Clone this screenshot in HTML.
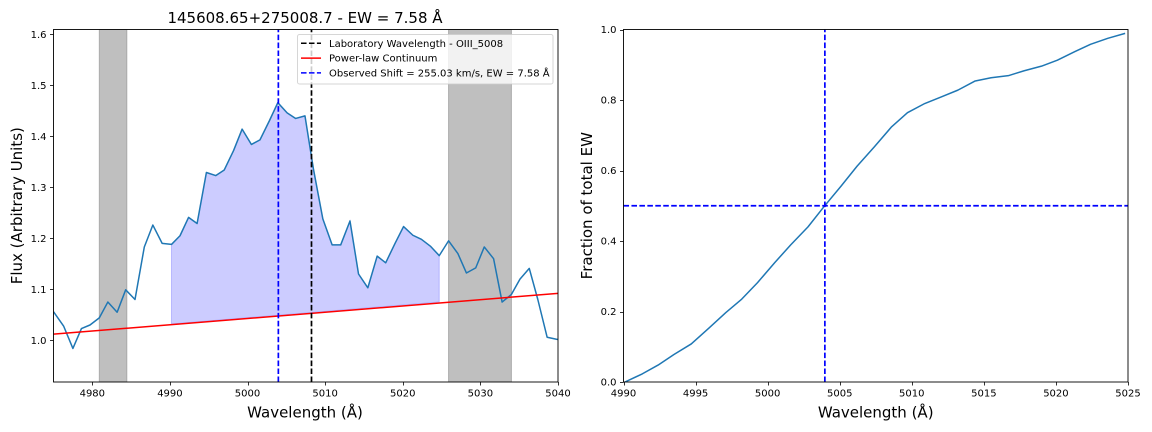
<!DOCTYPE html>
<html>
<head>
<meta charset="utf-8">
<title>EW chart</title>
<style>
html,body{margin:0;padding:0;background:#fff;width:1152px;height:432px;overflow:hidden}
svg{display:block;filter:blur(0.35px)}
text{font-family:"DejaVu Sans","Liberation Sans",sans-serif;fill:#000}
</style>
</head>
<body>
<svg id="fig" xmlns="http://www.w3.org/2000/svg" width="1152" height="432" viewBox="0 0 1152 432">
<defs>
<clipPath id="clipL"><rect x="53.5" y="29.5" width="504.5" height="352.5"/></clipPath>
<clipPath id="clipR"><rect x="623.5" y="29.5" width="504.5" height="352.5"/></clipPath>
</defs>
<g id="left"></g>
<g id="right"></g>
</svg>
<script>
var fluxWave = [4975.0,4976.3,4977.5,4978.6,4979.7,4980.9,4982.0,4983.2,4984.3,4985.5,4986.7,4987.8,4989.0,4990.2,4991.3,4992.4,4993.5,4994.7,4995.9,4997.0,4998.2,4999.3,5000.5,5001.6,5002.8,5003.9,5005.1,5006.2,5007.4,5008.5,5009.7,5010.9,5012.0,5013.2,5014.3,5015.5,5016.7,5017.8,5019.0,5020.1,5021.3,5022.4,5023.6,5024.7,5025.9,5027.1,5028.2,5029.4,5030.5,5031.7,5032.8,5034.0,5035.1,5036.3,5037.4,5038.6,5039.8,5040.9];
var fluxValues = [1.056,1.028,0.984,1.023,1.030,1.044,1.075,1.055,1.099,1.080,1.183,1.226,1.190,1.188,1.205,1.241,1.229,1.329,1.323,1.334,1.372,1.414,1.384,1.393,1.430,1.466,1.446,1.435,1.440,1.335,1.238,1.187,1.187,1.234,1.130,1.103,1.165,1.152,1.190,1.223,1.206,1.198,1.184,1.166,1.195,1.170,1.132,1.142,1.183,1.160,1.075,1.090,1.120,1.141,1.080,1.006,1.002,1.000];
var continuumWave = [4975,5040];
var continuumFlux = [1.012,1.092];
var fillStartWave = 4990.2;
var fillEndWave = 5024.7;
var fillBaseFlux = [1.032,1.075];
var maskStart = [4980.9,5025.9];
var maskEnd = [4984.45,5034.0];
var labWave = 5008.24;
var shiftWave = 5003.97;
var halfFraction = 0.5;
var cumWave = [4990.1,4991.3,4992.4,4993.5,4994.7,4995.9,4997.1,4998.2,4999.3,5000.5,5001.6,5002.8,5003.9,5005.1,5006.2,5007.4,5008.6,5009.7,5010.9,5012.0,5013.2,5014.4,5015.5,5016.7,5017.8,5019.0,5020.1,5021.3,5022.4,5023.6,5024.8];
var cumFraction = [0,0.023,0.048,0.078,0.108,0.152,0.197,0.235,0.282,0.339,0.389,0.440,0.497,0.556,0.612,0.667,0.724,0.764,0.790,0.808,0.828,0.854,0.863,0.869,0.883,0.896,0.913,0.937,0.958,0.975,0.989];
var leftXTicks = [4980,4990,5000,5010,5020,5030,5040];
var leftYTicks = ["1.0","1.1","1.2","1.3","1.4","1.5","1.6"];
var rightXTicks = [4990,4995,5000,5005,5010,5015,5020,5025];
var rightYTicks = ["0.0","0.2","0.4","0.6","0.8","1.0"];
var legendLabels = ["Laboratory Wavelength - OIII_5008","Power-law Continuum","Observed Shift = 255.03 km/s, EW = 7.58 Å"];
var legendColors = ["#000000","#ff0000","#0000ff"];

var NS = "http://www.w3.org/2000/svg";
var DASH = "5.55 2.4";
var BLUE = "#1f77b4";

function mk(parent, tag, attrs, txt) {
  var e = document.createElementNS(NS, tag);
  for (var k in attrs) e.setAttribute(k, attrs[k]);
  if (txt !== undefined) e.textContent = txt;
  parent.appendChild(e);
  return e;
}
function linScale(d0, d1, r0, r1) {
  return function (v) { return r0 + (v - d0) * (r1 - r0) / (d1 - d0); };
}
function pathOf(xs, ys, sx, sy) {
  return xs.map(function (x, i) { return (i ? "L" : "M") + sx(x).toFixed(2) + " " + sy(ys[i]).toFixed(2); }).join(" ");
}
function drawAxes(g, sx, sy, xt, yt, L, R, T, B, prefix) {
  xt.forEach(function (t) {
    var x = Math.round(sx(+t)) + 0.5;
    var tk = mk(g, "line", {x1: x, x2: x, y1: B, y2: B + 3.5, stroke: "#000", "stroke-width": 0.8});
    
    
    var lb = mk(g, "text", {x: sx(+t), y: B + 14.6, "font-size": 10, "text-anchor": "middle"}, String(t));
    
    
  });
  yt.forEach(function (t) {
    var y = Math.round(sy(+t)) + 0.5;
    var tk = mk(g, "line", {x1: L - 3.5, x2: L, y1: y, y2: y, stroke: "#000", "stroke-width": 0.8});
    
    
    var lb = mk(g, "text", {x: L - 7, y: sy(+t) + 3.6, "font-size": 10, "text-anchor": "end"}, t);
    
    
  });
  var fr = mk(g, "rect", {x: L, y: T, width: R - L, height: B - T, fill: "none", stroke: "#000", "stroke-width": 0.9});
  
  
}

/* LEFT PANEL */
(function () {
  var g = document.getElementById("left");
  var L = 53.5, R = 558, T = 29.5, B = 382;
  var sx = linScale(4975, 5040, L, R);
  var sy = linScale(1.0, 1.6, 340.3, 34.3);
  var plot = mk(g, "g", {"clip-path": "url(#clipL)"});
  
  

  maskStart.forEach(function (s, i) {
    var r = mk(plot, "rect", {x: sx(s), y: T, width: sx(maskEnd[i]) - sx(s), height: B - T, fill: "#808080", "fill-opacity": 0.5, stroke: "#808080", "stroke-opacity": 0.5, "stroke-width": 1});
    
    
  });

  var top = [];
  fluxWave.forEach(function (w, i) {
    if (w >= fillStartWave && w <= fillEndWave) top.push(sx(w).toFixed(2) + "," + sy(fluxValues[i]).toFixed(2));
  });
  top.push(sx(fillEndWave).toFixed(2) + "," + sy(fillBaseFlux[1]).toFixed(2));
  top.push(sx(fillStartWave).toFixed(2) + "," + sy(fillBaseFlux[0]).toFixed(2));
  var fill = mk(plot, "polygon", {points: top.join(" "), fill: "#0000ff", "fill-opacity": 0.2, stroke: "#0000ff", "stroke-opacity": 0.2, "stroke-width": 1});
  
  

  var line = mk(plot, "path", {d: pathOf(fluxWave, fluxValues, sx, sy), fill: "none", stroke: BLUE, "stroke-width": 1.5, "stroke-linejoin": "round"});
  
  

  var cont = mk(plot, "path", {d: pathOf(continuumWave, continuumFlux, sx, sy), fill: "none", stroke: "#ff0000", "stroke-width": 1.5});
  
  

  var lab = mk(plot, "line", {x1: sx(labWave), x2: sx(labWave), y1: B, y2: T, stroke: "#000", "stroke-width": 1.7, "stroke-dasharray": DASH});
  
  

  var obs = mk(plot, "line", {x1: sx(shiftWave), x2: sx(shiftWave), y1: B, y2: T, stroke: "#0000ff", "stroke-width": 1.7, "stroke-dasharray": DASH});
  
  

  drawAxes(g, sx, sy, leftXTicks, leftYTicks, L, R, T, B, 'flux');

  var title = mk(g, "text", {x: 305, y: 23, "font-size": 15, "text-anchor": "middle"}, "145608.65+275008.7 - EW = 7.58 Å");
  
  

  var xl = mk(g, "text", {x: 305, y: 417.6, "font-size": 15, "text-anchor": "middle"}, "Wavelength (Å)");
  
  

  var yl = mk(g, "text", {x: 0, y: 0, "font-size": 15, "text-anchor": "middle", transform: "translate(22 205.7) rotate(-90)"}, "Flux (Arbitrary Units)");
  
  

  var leg = mk(g, "g", {});
  
  
  var box = mk(leg, "rect", {x: 297.5, y: 34.5, width: 255.5, height: 49.5, rx: 2, ry: 2, fill: "#fff", "fill-opacity": 0.8, stroke: "#cccccc", "stroke-opacity": 0.8, "stroke-width": 1});
  
  
  legendLabels.forEach(function (t, i) {
    var y = 43.3 + i * 14.8;
    var attrs = {x1: 301, x2: 321, y1: y, y2: y, stroke: legendColors[i], "stroke-width": 1.5};
    if (i !== 1) attrs["stroke-dasharray"] = DASH;
    var h = mk(leg, "line", attrs);
    
    
    var tx = mk(leg, "text", {x: 329, y: y + 3.5, "font-size": 10}, t);
    
    
  });
})();

/* RIGHT PANEL */
(function () {
  var g = document.getElementById("right");
  var L = 623.5, R = 1128, T = 29.5, B = 382;
  var sx = linScale(4990, 5025, L, R);
  var sy = linScale(0, 1, B, T);
  var plot = mk(g, "g", {"clip-path": "url(#clipR)"});
  
  

  var line = mk(plot, "path", {d: pathOf(cumWave, cumFraction, sx, sy), fill: "none", stroke: BLUE, "stroke-width": 1.5, "stroke-linejoin": "round"});
  
  

  var v = mk(plot, "line", {x1: sx(shiftWave), x2: sx(shiftWave), y1: B, y2: T, stroke: "#0000ff", "stroke-width": 1.7, "stroke-dasharray": DASH});
  
  

  var h = mk(plot, "line", {x1: L, x2: R, y1: sy(halfFraction), y2: sy(halfFraction), stroke: "#0000ff", "stroke-width": 1.7, "stroke-dasharray": DASH});
  
  

  drawAxes(g, sx, sy, rightXTicks, rightYTicks, L, R, T, B, 'cumulative');

  var xl = mk(g, "text", {x: 875.7, y: 417.6, "font-size": 15, "text-anchor": "middle"}, "Wavelength (Å)");
  
  

  var yl = mk(g, "text", {x: 0, y: 0, "font-size": 15, "text-anchor": "middle", transform: "translate(592 205.7) rotate(-90)"}, "Fraction of total EW");
  
  
})();
</script>
</body>
</html>
